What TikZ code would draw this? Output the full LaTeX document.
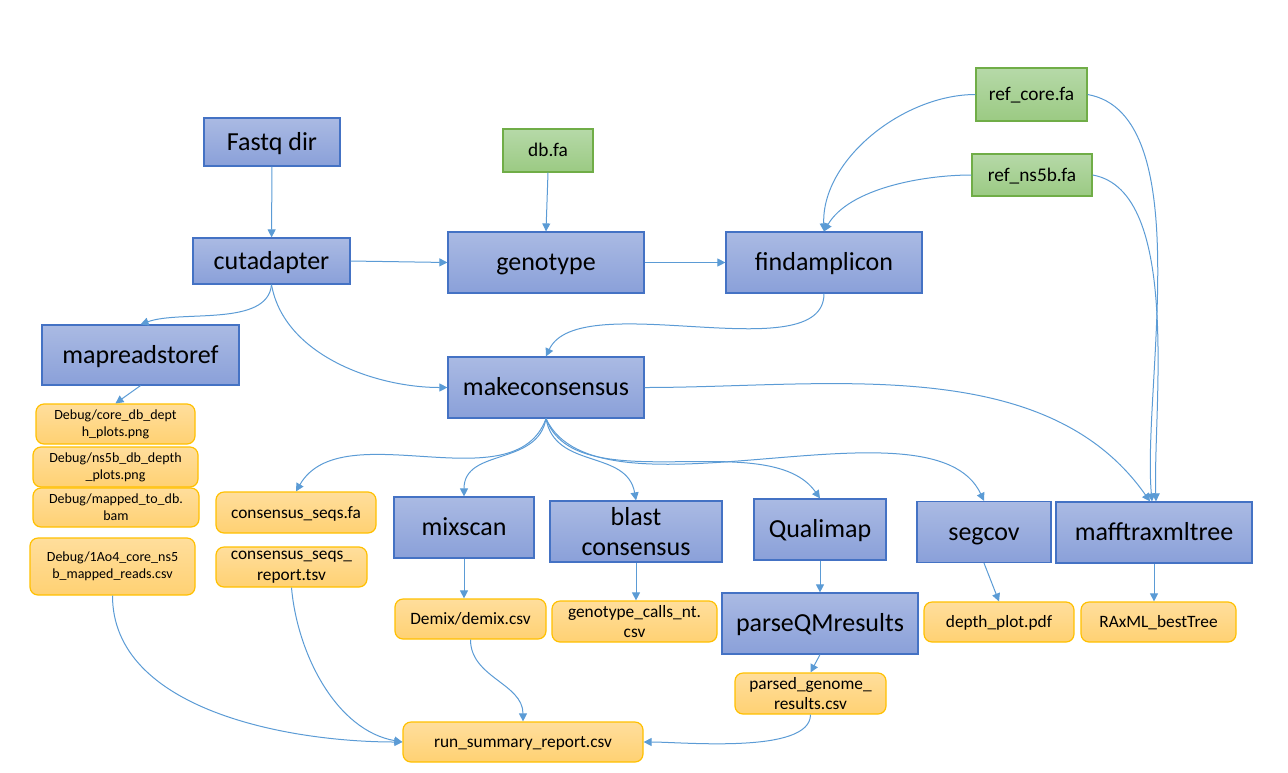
\documentclass[tikz,border=0pt]{standalone}
\usepackage{fontspec}
\setmainfont{Carlito}
\usetikzlibrary{arrows.meta}
\definecolor{bluetop}{HTML}{AABAE3}
\definecolor{bluebot}{HTML}{8AA0D9}
\definecolor{blueline}{HTML}{4472C4}
\definecolor{greentop}{HTML}{B6D9A8}
\definecolor{greenbot}{HTML}{9BCA83}
\definecolor{greenline}{HTML}{70AD47}
\definecolor{orangetop}{HTML}{FFDE9C}
\definecolor{orangebot}{HTML}{FFD173}
\definecolor{orangeline}{HTML}{FFC000}
\definecolor{conn}{HTML}{5B9BD5}
\tikzset{
  sz/.style 2 args={minimum width=#1*0.75pt, minimum height=#2*0.75pt},
  procbox/.style={draw=blueline, line width=0.9pt, top color=bluetop, bottom color=bluebot,
    inner sep=0pt, align=center, font=\fontsize{19.5}{23}\selectfont,
    text height=14.6pt, text depth=2pt},
  refbox/.style={draw=greenline, line width=0.9pt, top color=greentop, bottom color=greenbot,
    inner sep=0pt, align=center, font=\fontsize{14.5}{17}\selectfont,
    text height=10.9pt, text depth=1.5pt},
  filebox/.style={draw=orangeline, line width=0.9pt, top color=orangetop, bottom color=orangebot,
    rounded corners=6pt, inner sep=0pt, align=center, font=\fontsize{13}{16}\selectfont,
    text height=9.8pt, text depth=1.3pt},
  dbgbox/.style={filebox, font=\fontsize{10.5}{12.5}\selectfont},
  multi/.style={text height={}, text depth={}},
  link/.style={draw=conn, line width=0.75pt, -{Triangle[length=6pt,width=6pt]}},
}
\begin{document}
\begin{tikzpicture}[x=0.75pt, y=-0.75pt]
\useasboundingbox (0,0) rectangle (1288,772);
% process nodes
\node[procbox, sz={136}{48}] (fastq) at (272,142) {Fastq dir};
\node[procbox, sz={157}{46}] (cutadapter) at (271.5,261) {cutadapter};
\node[procbox, sz={196}{61}] (genotype) at (546,262.5) {genotype};
\node[procbox, sz={196}{61}] (findamplicon) at (824,262.5) {findamplicon};
\node[procbox, sz={197}{60}] (mapreads) at (140.5,355) {mapreadstoref};
\node[procbox, sz={196}{61}] (makecons) at (546,387.5) {makeconsensus};
\node[procbox, sz={140}{61}] (mixscan) at (464,527.5) {mixscan};
\node[procbox, multi, sz={172}{61}] (blast) at (636,531.5) {blast\\consensus};
\node[procbox, sz={132}{61}] (qualimap) at (820,529.5) {Qualimap};
\node[procbox, sz={196}{61}] (parseqm) at (820,623.5) {parseQMresults};
\node[procbox, sz={134}{61}] (segcov) at (984,532) {segcov};
\node[procbox, sz={196}{61}] (mafft) at (1154,532.5) {mafftraxmltree};
% reference nodes
\node[refbox, sz={90}{43}] (dbfa) at (548,150.5) {db.fa};
\node[refbox, sz={111}{53}] (refcore) at (1031.5,94.5) {ref\_core.fa};
\node[refbox, sz={120}{42}] (refns5b) at (1032,175) {ref\_ns5b.fa};
% file nodes
\node[dbgbox, multi, sz={159}{40}] (dbg1) at (115.5,424) {Debug/core\_db\_dept\\h\_plots.png};
\node[dbgbox, multi, sz={165}{40}] (dbg2) at (115.5,467) {Debug/ns5b\_db\_depth\\\_plots.png};
\node[dbgbox, multi, sz={166}{39}] (dbg3) at (116,507.5) {Debug/mapped\_to\_db.\\bam};
\node[dbgbox, multi, sz={165}{57}] (dbg4) at (112.5,566.5) {Debug/1Ao4\_core\_ns5\\b\_mapped\_reads.csv};
\node[filebox, sz={160}{41}] (consfa) at (296,512.5) {consensus\_seqs.fa};
\node[filebox, multi, sz={151}{40}] (consrep) at (291.5,567) {consensus\_seqs\_\\report.tsv};
\node[filebox, sz={151}{40}] (demix) at (470.5,619) {Demix/demix.csv};
\node[filebox, multi, sz={165}{41}, font=\fontsize{13}{15}\selectfont] (gtcalls) at (634.5,621.5) {genotype\_calls\_nt.\\csv};
\node[filebox, sz={150}{40}] (depthplot) at (999,622) {depth\_plot.pdf};
\node[filebox, sz={155}{40}] (raxml) at (1158.5,622) {RAxML\_bestTree};
\node[filebox, multi, sz={151}{41}, font=\fontsize{13}{15}\selectfont] (parsed) at (810.5,693.5) {parsed\_genome\_\\results.csv};
\node[filebox, sz={240}{40}] (runsum) at (523,742) {run\_summary\_report.csv};
% connectors
\draw[link] (fastq) -- (cutadapter);
\draw[link] (dbfa.south) -- (genotype.north);
\draw[link] (cutadapter.east) -- (genotype.west);
\draw[link] (genotype.east) -- (findamplicon.west);
\draw[link] (refcore.west) to[out=180, in=92, looseness=0.9] (findamplicon.north);
\draw[link] (refns5b.west) to[out=180, in=60, looseness=0.8] (findamplicon.north);
\draw[link] (refcore.east) to[out=-10, in=95, looseness=0.7] ([xshift=-1.5pt]mafft.north);
\draw[link] (refns5b.east) to[out=-10, in=92, looseness=0.7] ([xshift=1.5pt]mafft.north);
\draw[link] (makecons.east) to[out=0, in=125, looseness=0.9] ([xshift=-3pt]mafft.north);
\draw[link] (findamplicon.south) to[out=-90, in=65, looseness=0.7] (makecons.north);
\draw[link] (cutadapter.south) to[out=-95, in=20, looseness=0.8] (mapreads.north);
\draw[link] (cutadapter.south) to[out=-80, in=180, looseness=0.9] (makecons.west);
\draw[link] (mapreads.south) -- (dbg1.north);
\draw[link] (makecons.south) to[out=-110, in=60, looseness=0.9] (consfa.north);
\draw[link] (makecons.south) to[out=-100, in=90, looseness=1.1] (mixscan.north);
\draw[link] (makecons.south) to[out=-80, in=100, looseness=1.1] (blast.north);
\draw[link] (makecons.south) to[out=-70, in=125, looseness=0.8] (qualimap.north);
\draw[link] (makecons.south) to[out=-65, in=115, looseness=0.7] (segcov.north);
\draw[link] (mixscan.south) -- (mixscan.south |- demix.north);
\draw[link] (blast.south) -- (blast.south |- gtcalls.north);
\draw[link] (qualimap.south) -- (parseqm.north);
\draw[link] (segcov.south) -- (depthplot.north);
\draw[link] (mafft.south) -- (mafft.south |- raxml.north);
\draw[link] (parseqm.south) -- (parsed.north);
\draw[link] (dbg4.south) to[out=-90, in=180, looseness=0.9] (runsum.west);
\draw[link] (consrep.south) to[out=-85, in=170, looseness=0.9] (runsum.west);
\draw[link] (demix.south) to[out=-90, in=90, looseness=1.0] (runsum.north);
\draw[link] (parsed.south) to[out=-90, in=0, looseness=0.6] (runsum.east);
\end{tikzpicture}
\end{document}
